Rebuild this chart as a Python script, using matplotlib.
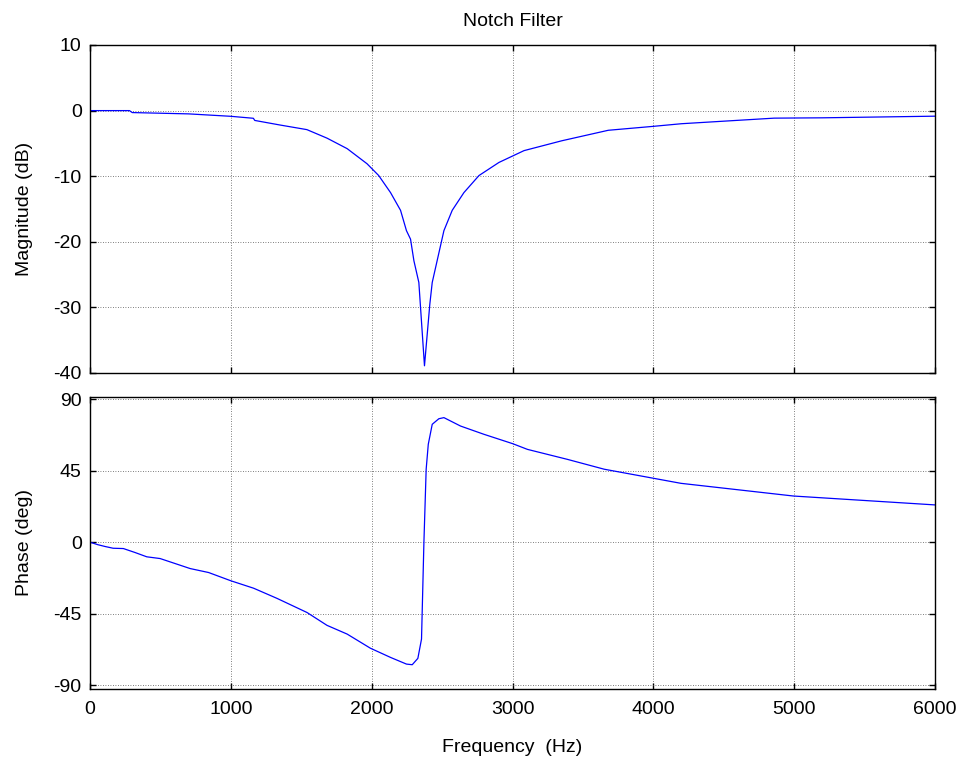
import matplotlib
matplotlib.use("Agg")
import matplotlib.pyplot as plt

mag_freq = [0, 280, 300, 700, 1000, 1160, 1170, 1350, 1540, 1683, 1826, 1967, 2050, 2134,
            2205, 2247, 2276, 2300, 2335, 2375, 2413, 2430, 2513, 2572, 2655, 2762, 2904,
            3082, 3350, 3680, 4000, 4200, 4858, 5200, 6000]
mag_db = [0, 0, -0.3, -0.5, -0.87, -1.17, -1.5, -2.2, -2.9, -4.2, -5.8, -8.1, -9.9, -12.5,
          -15.2, -18.3, -19.6, -22.9, -26.2, -38.9, -29.5, -26.2, -18.3, -15.2, -12.5, -9.9, -7.9,
          -6.1, -4.6, -3.0, -2.4, -2.0, -1.15, -1.1, -0.85]

ph_freq = [0, 57, 107, 164, 237, 320, 403, 498, 711, 842, 1000, 1162, 1328, 1541, 1683,
           1826, 1991, 2134, 2247, 2288, 2328, 2354, 2371, 2387, 2402, 2430, 2477, 2513,
           2631, 2797, 3001, 3106, 3390, 3651, 4000, 4196, 4995, 6000]
ph_deg = [0, -1.6, -2.7, -3.8, -4.0, -6.5, -9.2, -10.3, -16.6, -19.1, -24.3, -29, -35.4, -44.3,
          -52.4, -57.9, -66.8, -72.6, -76.8, -77.2, -73.2, -61, 0, 46, 61.7, 74.3, 77.8, 78.5,
          73.2, 68, 62.1, 58.5, 52.2, 46, 40.3, 37.1, 29.1, 23.5]

x_ticks = [0, 1000, 2000, 3000, 4000, 5000, 6000]
mag_ticks = [-40, -30, -20, -10, 0, 10]
ph_ticks = [-90, -45, 0, 45, 90]

plt.rcParams['font.family'] = ['Liberation Sans', 'DejaVu Sans']
plt.rcParams['axes.unicode_minus'] = False
FS = 14

W, H = 962, 763
fig = plt.figure(figsize=(W / 100, H / 100), dpi=100)
ax1 = fig.add_axes([90 / W, 1 - 373 / H, 845 / W, 328 / H])
ax2 = fig.add_axes([90 / W, 1 - 689 / H, 845 / W, 292 / H])

for ax in (ax1, ax2):
    ax.set_xlim(0, 6000)
    ax.set_xticks(x_ticks)
    ax.grid(True, color='#555555', linestyle=(0, (1, 2)), linewidth=0.6)
    ax.tick_params(direction='in', top=True, right=True, length=4, width=1.0,
                   labelsize=FS, colors='black')
    ax.tick_params(axis='x', pad=9)
    ax.tick_params(axis='y', pad=6)
    for s in ax.spines.values():
        s.set_linewidth(1.0)
        s.set_color('black')

ax1.plot(mag_freq, mag_db, color='#0000ff', linewidth=0.9)
ax1.set_ylim(-40, 10)
ax1.set_yticks(mag_ticks)
ax1.set_xticklabels([])
ax1.set_ylabel('Magnitude (dB)', fontsize=FS)
ax1.set_title('Notch Filter', fontsize=FS, pad=14)

ax2.plot(ph_freq, ph_deg, color='#0000ff', linewidth=0.9)
ax2.set_ylim(-92.5, 91.5)
ax2.set_yticks(ph_ticks)
ax2.set_ylabel('Phase (deg)', fontsize=FS)
ax2.set_xlabel('Frequency  (Hz)', fontsize=FS, labelpad=15)

for ax in (ax1, ax2):
    ax.yaxis.set_label_coords(-57 / 845, 0.5)

fig.savefig('out.png', dpi=100, facecolor='white')
